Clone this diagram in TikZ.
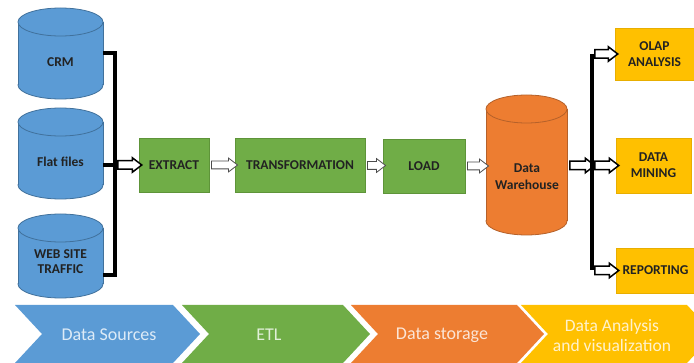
\documentclass[tikz,border=0pt]{standalone}
\usepackage{fontspec}
\setmainfont{Carlito}
\usetikzlibrary{shapes.arrows,calc}
\definecolor{cblue}{HTML}{5B9BD5}
\definecolor{cblueD}{HTML}{41719C}
\definecolor{cgreen}{HTML}{70AD47}
\definecolor{cgreenD}{HTML}{5E9439}
\definecolor{corange}{HTML}{ED7D31}
\definecolor{corangeD}{HTML}{B5612A}
\definecolor{cgold}{HTML}{FFC000}
\definecolor{cgoldD}{HTML}{E8AE00}
\definecolor{tblue}{HTML}{DDEBF7}
\definecolor{tgreen}{HTML}{E2F0D9}
\definecolor{torange}{HTML}{FBE5D6}
\definecolor{tgold}{HTML}{FFF2CC}
\definecolor{txt}{HTML}{222222}
\newcommand\bfont{\fontsize{13.5}{16}\selectfont\bfseries}
\newcommand\cfont{\fontsize{18}{20}\selectfont}
% cylinder drawing: cx, top, bottom, rx, ry, fill, draw
\newcommand\cylshape[7]{%
  \fill[#6] ({#1-#4},{#2+#5}) rectangle ({#1+#4},{#3-#5});
  \fill[#6] (#1,{#3-#5}) ellipse[x radius=#4pt, y radius=#5pt];
  \draw[#7,cylline] ({#1-#4},{#2+#5}) -- ({#1-#4},{#3-#5})
                    ({#1+#4},{#2+#5}) -- ({#1+#4},{#3-#5});
  \begin{scope}
    \clip ({#1-#4-3},{#3-#5}) rectangle ({#1+#4+3},{#3+3});
    \draw[#7,cylline] (#1,{#3-#5}) ellipse[x radius=#4pt, y radius=#5pt];
  \end{scope}
  \filldraw[fill=#6,draw=#7,cylline] (#1,{#2+#5}) ellipse[x radius=#4pt, y radius=#5pt];
}
\newcommand\harr[3][harrow]{%
  \path let \p1=(#2), \p2=(#3), \n1={veclen(\x2-\x1,\y2-\y1)} in
    node[#1, minimum height=\n1] at ($(\p1)!0.5!(\p2)$) {};
}
\tikzset{
  cylline/.style={line width=0.8pt},
  cylbox/.style={rectangle, inner sep=0pt, outer sep=0pt},
  ctext/.style={font=\bfont, text=txt, align=center, inner sep=0pt},
  gbox/.style={rectangle, fill=cgreen, draw=cgreenD, line width=0.6pt, font=\bfont, text=txt, inner sep=0pt, outer sep=0pt, align=center},
  ybox/.style={rectangle, fill=cgold, draw=cgoldD, line width=0.6pt, font=\bfont, text=txt, inner sep=0pt, outer sep=0pt, align=center},
  harrow/.style={single arrow, draw=black!70, line width=0.8pt, fill=white, inner sep=3.5pt, minimum width=0pt,
     single arrow head extend=3pt, single arrow tip angle=75, outer sep=0pt},
  harrowB/.style={harrow, draw=black, line width=1.5pt},
  bus/.style={line width=3.5pt, black},
  chev/.style={font=\cfont, align=center, inner sep=0pt}
}
\begin{document}
\begin{tikzpicture}[x=1pt,y=-1pt]
\useasboundingbox (0,0) rectangle (694,363);
\fill[white] (0,0) rectangle (694,363);
\clip (0,0) rectangle (694,363);

% ---- source cylinders
\cylshape{60.5}{8}{99}{42.5}{14}{cblue}{cblueD}
\cylshape{60.5}{108}{199}{42.5}{14}{cblue}{cblueD}
\cylshape{60.5}{214}{298}{42.5}{14}{cblue}{cblueD}
\node[cylbox, minimum width=85pt, minimum height=91pt] (crm) at (60.5,53.5) {};
\node[cylbox, minimum width=85pt, minimum height=91pt] (flat) at (60.5,153.5) {};
\node[cylbox, minimum width=85pt, minimum height=84pt] (web) at (60.5,256) {};
\node[ctext] (crmt) at (60.5,62) {CRM};
\node[ctext] (flatt) at (60.5,162) {Flat files};
\node[ctext, font=\fontsize{13.5}{15}\selectfont\bfseries] (webt) at (60.5,262) {WEB SITE\\TRAFFIC};

% ---- data warehouse
\cylshape{526.5}{95}{235}{40.5}{14}{corange}{corangeD}
\node[cylbox, minimum width=81pt, minimum height=140pt] (dw) at (526.5,165) {};
\node[ctext, font=\fontsize{13.5}{17}\selectfont\bfseries] (dwt) at (527,176.5) {Data\\Warehouse};

% ---- ETL boxes
\node[gbox, minimum width=70pt, minimum height=54pt] (extract) at (174,165) {EXTRACT};
\node[gbox, minimum width=130pt, minimum height=54pt] (trans) at (300,165) {TRANSFORMATION};
\node[gbox, minimum width=82pt, minimum height=54pt] (load) at (424,166) {LOAD};

% ---- analysis boxes
\node[ybox, minimum width=79pt, minimum height=52pt] (olap) at (654.5,54) {OLAP\\ANALYSIS};
\node[ybox, minimum width=75pt, minimum height=55pt] (mining) at (653.5,165.5) {DATA\\MINING};
\node[ybox, minimum width=79pt, minimum height=45pt] (report) at (655.5,270.5) {REPORTING};

% ---- bus coordinates
\coordinate (bt) at (115,53);
\coordinate (bm) at (115,165);
\coordinate (bb) at (115,275);
\coordinate (rt) at (592,54);
\coordinate (rm) at (592,165.5);
\coordinate (rb) at (592,270.5);

% ---- hollow arrows
\harr[harrowB]{bm}{extract.west}
\harr{extract.east}{trans.west}
\harr{trans.east}{load.west}
\harr{load.east}{dw.west |- load.east}
\harr[harrowB]{dw.east |- rm}{rm}
\harr[harrowB]{rt}{olap.west}
\harr[harrowB]{rm}{mining.west}
\harr[harrowB]{rb}{report.west}

% ---- black bus lines
\draw[bus] (crm.east |- bt) -- (bt) -- (bb) -- (web.east |- bb);
\draw[bus] (flat.east |- bm) -- (bm);
\draw[bus] (rt) -- (rb);

% ---- bottom chevrons
\fill[cblue]   (15,305) -- (173,305) -- (200,334) -- (173,363) -- (15,363) -- (42,334) -- cycle;
\fill[cgreen]  (182,305) -- (343,305) -- (370,334) -- (343,363) -- (182,363) -- (209,334) -- cycle;
\fill[corange] (351,305) -- (517,305) -- (544,334) -- (517,363) -- (351,363) -- (378,334) -- cycle;
\fill[cgold]   (521,305) -- (687,305) -- (714,334) -- (687,363) -- (521,363) -- (548,334) -- cycle;
\node[chev, text=tblue] (ds) at (109,335) {Data Sources};
\node[chev, text=tgreen] (etl) at (269,335) {ETL};
\node[chev, text=torange] (dst) at (442,335) {Data storage};
\node[chev, text=tgold, font=\fontsize{17.5}{20}\selectfont] (dav) at (612,335) {Data Analysis\\and visualization};
\end{tikzpicture}
\end{document}
